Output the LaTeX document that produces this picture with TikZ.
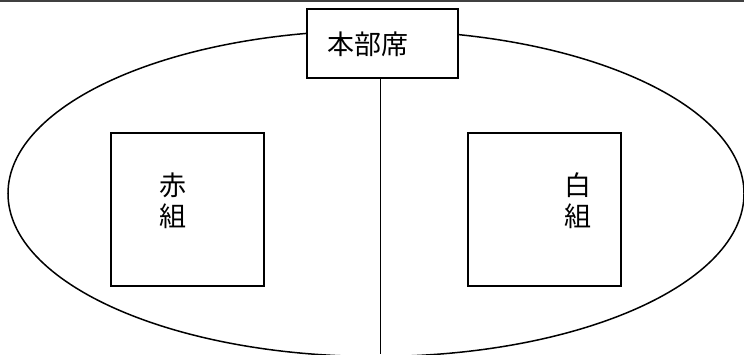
\documentclass[tikz,border=0pt]{standalone}
\usepackage{fontspec}
\newfontfamily\jpfont{Noto Sans CJK JP}
\usepackage{tikz}
\usetikzlibrary{calc}

\tikzset{
	area/.style={draw, line width=1.5pt},
	teambox/.style={draw, line width=1.5pt, fill=white, minimum width=153pt, minimum height=153pt, inner sep=0pt},
	hqbox/.style={draw, line width=1.5pt, fill=white, minimum width=151pt, minimum height=69pt, inner sep=0pt},
	label/.style={font=\jpfont\fontsize{27pt}{31pt}\selectfont, align=center, inner sep=0pt}
}

\begin{document}
\begin{tikzpicture}[x=1pt, y=-1pt]
	\useasboundingbox (0,0) rectangle (744,354);
	\clip (0,0) rectangle (744,354);

	\coordinate (O) at (376,193.5);
	\coordinate (S) at (380.7,354);

	% Top border
	\draw[line width=2.5pt, gray!50!black] (0,1) -- (744,1);

	% Field
	\draw[area] (O) ellipse [x radius=368pt, y radius=163pt];

	% Teams
	\node[teambox] (red)   at (187.4,209.5) {};
	\node[teambox] (white) at (544.5,209.5) {};
	\node[label] (redtext)   at (173,201) {赤\\組};
	\node[label] (whitetext) at (578,201) {白\\組};

	% Headquarters and center line
	\node[hqbox] (honbu) at (382.5,43.5) {};
	\node[label] (honbutext) at (368,44.5) {本部席};
	\draw[area] (honbu.south -| S) -- (S);
\end{tikzpicture}
\end{document}
